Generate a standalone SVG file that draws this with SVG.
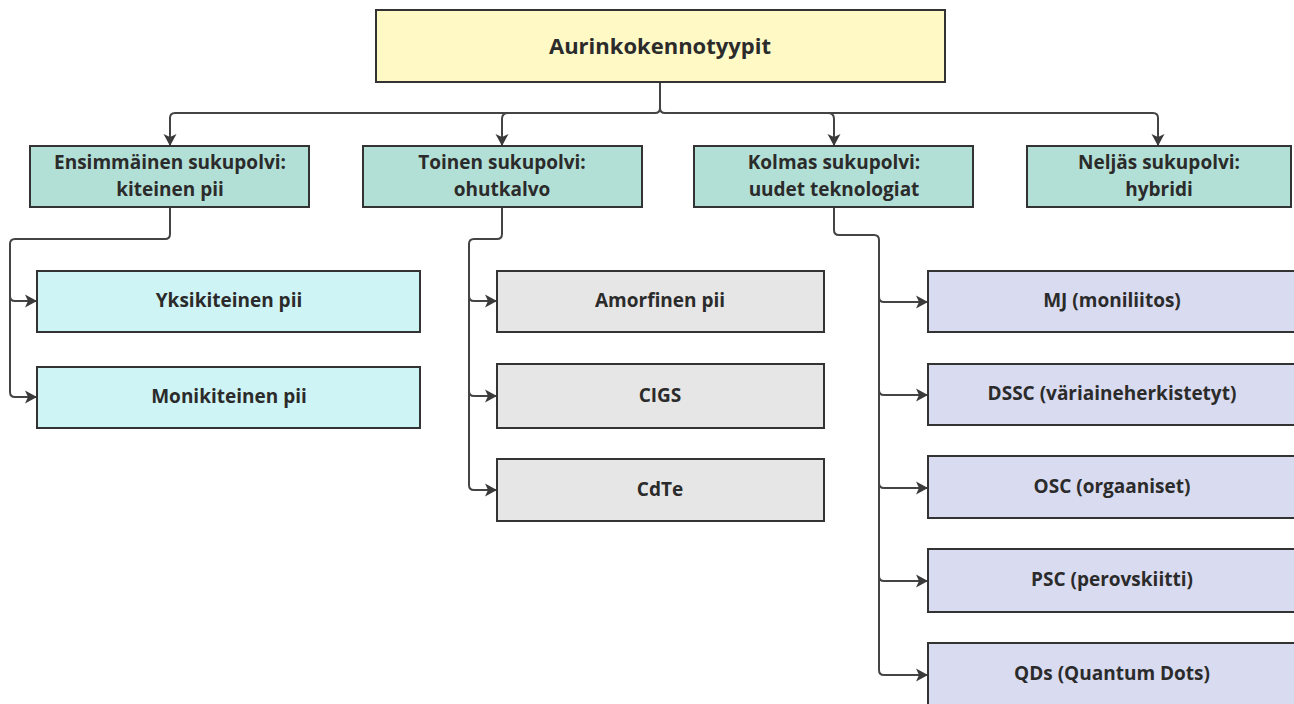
<svg xmlns="http://www.w3.org/2000/svg" width="1294" height="704" viewBox="0 0 1294 704">
<defs>
<marker id="ah" markerUnits="userSpaceOnUse" markerWidth="14" markerHeight="14" refX="12" refY="7" orient="auto">
<path d="M0,0.5 L12,7 L0,13.5 L3,7 Z" fill="#3a3a3a"/>
</marker>
<style>
.box{stroke:#333;stroke-width:2}
.root{fill:#fff9c6}
.gen{fill:#b3e0d6}
.c1{fill:#cff4f5}
.c2{fill:#e6e6e6}
.c3{fill:#d9dbf0}
.t{font-family:"Open Sans","Liberation Sans",sans-serif;font-weight:700;fill:#2b2b2b;text-anchor:middle;dominant-baseline:central}
.tt{font-size:22px}
.tg{font-size:19px}
.tc{font-size:19px}
.ln{fill:none;stroke:#444;stroke-width:2}
</style>
</defs>
<rect width="1294" height="704" fill="#fff"/>
<g id="connectors">
<path class="ln" d="M660,82 V108 Q660,113 655,113 H175 Q170,113 170,118 V146" marker-end="url(#ah)"/>
<path class="ln" d="M660,82 V108 Q660,113 665,113 H1153 Q1158,113 1158,118 V146" marker-end="url(#ah)"/>
<path class="ln" d="M508,113 Q502,113 502,119 V146" marker-end="url(#ah)"/>
<path class="ln" d="M828,113 Q834,113 834,119 V146" marker-end="url(#ah)"/>
<path class="ln" d="M170,207 V234 Q170,239 165,239 H15 Q10,239 10,244 V296 Q10,301 15,301 H37" marker-end="url(#ah)"/>
<path class="ln" d="M10,296 V392 Q10,397 15,397 H37" marker-end="url(#ah)"/>
<path class="ln" d="M502,207 V234 Q502,239 497,239 H474 Q469,239 469,244 V296 Q469,301 474,301 H497" marker-end="url(#ah)"/>
<path class="ln" d="M469,296 V391 Q469,396 474,396 H497" marker-end="url(#ah)"/>
<path class="ln" d="M469,391 V485 Q469,490 474,490 H497" marker-end="url(#ah)"/>
<path class="ln" d="M834,207 V230 Q834,235 839,235 H874 Q879,235 879,240 V297 Q879,302 884,302 H928" marker-end="url(#ah)"/>
<path class="ln" d="M879,297 V390 Q879,395 884,395 H928" marker-end="url(#ah)"/>
<path class="ln" d="M879,390 V483 Q879,488 884,488 H928" marker-end="url(#ah)"/>
<path class="ln" d="M879,483 V576 Q879,581 884,581 H928" marker-end="url(#ah)"/>
<path class="ln" d="M879,576 V670 Q879,675 884,675 H928" marker-end="url(#ah)"/>
</g>
<g id="root"><rect class="box root" x="376" y="10" width="569" height="72"/><text class="t tt" x="660" y="45">Aurinkokennotyypit</text></g>
<g id="gen1"><rect class="box gen" x="30" y="146" width="279" height="61"/><text class="t tg" x="170" y="162">Ensimmäinen sukupolvi:</text><text class="t tg" x="170" y="189">kiteinen pii</text></g>
<g id="gen2"><rect class="box gen" x="363" y="146" width="279" height="61"/><text class="t tg" x="502" y="162">Toinen sukupolvi:</text><text class="t tg" x="502" y="189">ohutkalvo</text></g>
<g id="gen3"><rect class="box gen" x="694" y="146" width="279" height="61"/><text class="t tg" x="834" y="162">Kolmas sukupolvi:</text><text class="t tg" x="834" y="189">uudet teknologiat</text></g>
<g id="gen4"><rect class="box gen" x="1027" y="146" width="264" height="61"/><text class="t tg" x="1159" y="162">Neljäs sukupolvi:</text><text class="t tg" x="1159" y="189">hybridi</text></g>
<g id="yksi"><rect class="box c1" x="37" y="271" width="383" height="61"/><text class="t tc" x="229" y="300">Yksikiteinen pii</text></g>
<g id="moni"><rect class="box c1" x="37" y="367" width="383" height="61"/><text class="t tc" x="229" y="396">Monikiteinen pii</text></g>
<g id="amorf"><rect class="box c2" x="497" y="271" width="327" height="61"/><text class="t tc" x="660" y="300">Amorfinen pii</text></g>
<g id="cigs"><rect class="box c2" x="497" y="364" width="327" height="64"/><text class="t tc" x="660" y="395">CIGS</text></g>
<g id="cdte"><rect class="box c2" x="497" y="459" width="327" height="62"/><text class="t tc" x="660" y="489">CdTe</text></g>
<g id="mj"><rect class="box c3" x="928" y="271" width="368" height="61"/><text class="t tc" x="1112" y="300">MJ (moniliitos)</text></g>
<g id="dssc"><rect class="box c3" x="928" y="364" width="368" height="61"/><text class="t tc" x="1112" y="393">DSSC (väriaineherkistetyt)</text></g>
<g id="osc"><rect class="box c3" x="928" y="456" width="368" height="62"/><text class="t tc" x="1112" y="486">OSC (orgaaniset)</text></g>
<g id="psc"><rect class="box c3" x="928" y="549" width="368" height="63"/><text class="t tc" x="1112" y="579">PSC (perovskiitti)</text></g>
<g id="qds"><rect class="box c3" x="928" y="643" width="368" height="70"/><text class="t tc" x="1112" y="673">QDs (Quantum Dots)</text></g>
</svg>
